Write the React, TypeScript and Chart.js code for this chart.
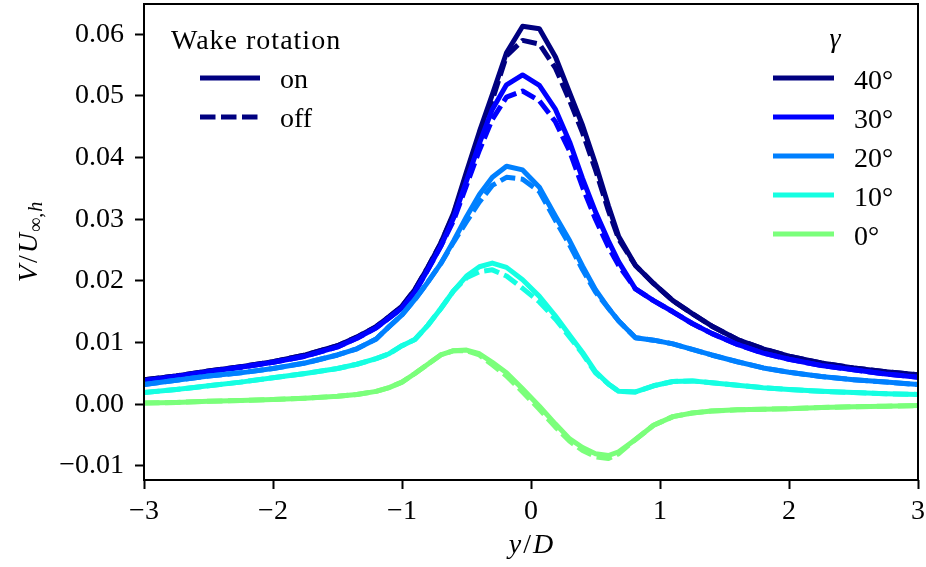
import React, { useEffect, useRef } from 'react';
import { Chart, registerables } from 'chart.js';

Chart.register(...registerables);

// ---- data ----
const Y_OVER_D = [
  -3, -2.75, -2.5, -2.25, -2, -1.75, -1.5, -1.35, -1.2, -1.1, -1, -0.9, -0.8, -0.7, -0.6, -0.5, -0.4, -0.3, -0.19, -0.065,
  0.065, 0.19, 0.3, 0.4, 0.5, 0.6, 0.68, 0.81, 0.95, 1.1, 1.25, 1.4, 1.6, 1.8, 2, 2.25, 2.5, 2.75, 3,
];

const GAMMA_LABELS = ['40°', '30°', '20°', '10°', '0°'];

const ON_40 = [
  0.0040, 0.0046, 0.0054, 0.0061, 0.0069, 0.0080, 0.0095, 0.0109, 0.0126, 0.0142, 0.0159, 0.0186, 0.0222, 0.0261, 0.0310, 0.0377, 0.0442, 0.0502, 0.0570, 0.0613,
  0.0609, 0.0563, 0.0505, 0.0452, 0.0390, 0.0322, 0.0272, 0.0225, 0.0196, 0.0168, 0.0147, 0.0127, 0.0105, 0.0090, 0.0078, 0.0067, 0.0059, 0.0053, 0.0048,
];
const OFF_40 = [
  0.0040, 0.0046, 0.0054, 0.0061, 0.0069, 0.0080, 0.0095, 0.0109, 0.0126, 0.0142, 0.0159, 0.0186, 0.0222, 0.0261, 0.0308, 0.0373, 0.0436, 0.0493, 0.0565, 0.0590,
  0.0584, 0.0545, 0.0492, 0.0440, 0.0380, 0.0314, 0.0268, 0.0225, 0.0196, 0.0168, 0.0147, 0.0127, 0.0105, 0.0090, 0.0078, 0.0067, 0.0059, 0.0053, 0.0048,
];
const ON_30 = [
  0.0038, 0.0045, 0.0053, 0.0060, 0.0068, 0.0078, 0.0093, 0.0107, 0.0124, 0.0140, 0.0156, 0.0182, 0.0218, 0.0256, 0.0302, 0.0362, 0.0423, 0.0478, 0.0518, 0.0534,
  0.0517, 0.0478, 0.0425, 0.0366, 0.0312, 0.0265, 0.0231, 0.0187, 0.0168, 0.0150, 0.0131, 0.0115, 0.0097, 0.0083, 0.0073, 0.0063, 0.0056, 0.0049, 0.0044,
];
const OFF_30 = [
  0.0038, 0.0045, 0.0053, 0.0060, 0.0068, 0.0078, 0.0093, 0.0107, 0.0124, 0.0140, 0.0156, 0.0182, 0.0218, 0.0256, 0.0298, 0.0355, 0.0412, 0.0462, 0.0498, 0.0508,
  0.0492, 0.0458, 0.0410, 0.0352, 0.0300, 0.0255, 0.0225, 0.0187, 0.0168, 0.0150, 0.0131, 0.0115, 0.0097, 0.0083, 0.0073, 0.0063, 0.0056, 0.0049, 0.0044,
];
const ON_20 = [
  0.0032, 0.0039, 0.0046, 0.0051, 0.0058, 0.0067, 0.0080, 0.0090, 0.0106, 0.0126, 0.0145, 0.0170, 0.0198, 0.0228, 0.0265, 0.0304, 0.0340, 0.0368, 0.0386, 0.0380,
  0.0352, 0.0305, 0.0265, 0.0224, 0.0186, 0.0156, 0.0135, 0.0108, 0.0104, 0.0098, 0.0089, 0.0080, 0.0069, 0.0059, 0.0052, 0.0045, 0.0040, 0.0036, 0.0032,
];
const OFF_20 = [
  0.0032, 0.0039, 0.0046, 0.0051, 0.0058, 0.0067, 0.0080, 0.0090, 0.0106, 0.0126, 0.0145, 0.0170, 0.0198, 0.0228, 0.0263, 0.0296, 0.0328, 0.0355, 0.0368, 0.0365,
  0.0345, 0.0298, 0.0258, 0.0218, 0.0182, 0.0156, 0.0135, 0.0108, 0.0104, 0.0098, 0.0089, 0.0080, 0.0069, 0.0059, 0.0052, 0.0045, 0.0040, 0.0036, 0.0032,
];
const ON_10 = [
  0.0019, 0.0024, 0.0030, 0.0036, 0.0043, 0.0050, 0.0058, 0.0065, 0.0074, 0.0082, 0.0095, 0.0105, 0.0128, 0.0155, 0.0184, 0.0208, 0.0223, 0.0229, 0.0222, 0.0202,
  0.0175, 0.0143, 0.0112, 0.0084, 0.0053, 0.0033, 0.0021, 0.0020, 0.0030, 0.0037, 0.0038, 0.0035, 0.0031, 0.0027, 0.0024, 0.0021, 0.0019, 0.0017, 0.0016,
];
const OFF_10 = [
  0.0019, 0.0024, 0.0030, 0.0036, 0.0043, 0.0050, 0.0058, 0.0065, 0.0074, 0.0082, 0.0095, 0.0105, 0.0128, 0.0155, 0.0184, 0.0205, 0.0215, 0.0218, 0.0208, 0.0188,
  0.0166, 0.0138, 0.0109, 0.0082, 0.0051, 0.0033, 0.0021, 0.0020, 0.0030, 0.0037, 0.0038, 0.0035, 0.0031, 0.0027, 0.0024, 0.0021, 0.0019, 0.0017, 0.0016,
];
const ON_0 = [
  0.0002, 0.0003, 0.0005, 0.0006, 0.0008, 0.0010, 0.0013, 0.0016, 0.0021, 0.0027, 0.0036, 0.0050, 0.0065, 0.0080, 0.0087, 0.0088, 0.0082, 0.0068, 0.0051, 0.0025,
  -0.0003, -0.0032, -0.0056, -0.0070, -0.0080, -0.0083, -0.0077, -0.0057, -0.0034, -0.0020, -0.0014, -0.0011, -0.0009, -0.0008, -0.0007, -0.0005, -0.0004, -0.0003, -0.0002,
];
const OFF_0 = [
  0.0002, 0.0003, 0.0005, 0.0006, 0.0008, 0.0010, 0.0013, 0.0016, 0.0021, 0.0027, 0.0036, 0.0050, 0.0065, 0.0080, 0.0087, 0.0087, 0.0080, 0.0064, 0.0046, 0.0020,
  -0.0008, -0.0037, -0.0060, -0.0075, -0.0085, -0.0088, -0.0080, -0.0057, -0.0034, -0.0020, -0.0014, -0.0011, -0.0009, -0.0008, -0.0007, -0.0005, -0.0004, -0.0003, -0.0002,
];

const SERIES_ON = [ON_40, ON_30, ON_20, ON_10, ON_0];
const SERIES_OFF = [OFF_40, OFF_30, OFF_20, OFF_10, OFF_0];

const X_TICKS = [-3, -2, -1, 0, 1, 2, 3];
const X_TICK_LABELS = ['\u22123', '\u22122', '\u22121', '0', '1', '2', '3'];
const Y_TICKS = [-0.01, 0, 0.01, 0.02, 0.03, 0.04, 0.05, 0.06];
const Y_TICK_LABELS = ['\u22120.01', '0.00', '0.01', '0.02', '0.03', '0.04', '0.05', '0.06'];
const X_RANGE = [-3, 3];
const Y_RANGE = [-0.01227, 0.0649];

const ROTATION_LABELS = ['on', 'off'];
const ROTATION_TITLE = 'Wake rotation';
const GAMMA_TITLE = '\u03b3';

// ---- styles ----
const COLORS = ['#000080', '#0000ff', '#0080ff', '#15ffe2', '#7bff7b'];
const FAMILY = '"Liberation Serif", "Times New Roman", serif';
const FS = 28;
const LW = 5;
const DASH = [15.5, 5.5];

export default function App() {
  const ref = useRef<HTMLCanvasElement>(null);

  useEffect(() => {
    const canvas = ref.current;
    if (!canvas) return;

    const datasets: any[] = [];
    GAMMA_LABELS.forEach((g, i) => {
      datasets.push({
        label: g + ' on',
        data: Y_OVER_D.map((x, k) => ({ x, y: SERIES_ON[i][k] })),
        borderColor: COLORS[i],
        borderWidth: LW,
        pointRadius: 0,
        tension: 0,
        fill: false,
        borderJoinStyle: 'round',
        order: 100 - 2 * i,
      });
      datasets.push({
        label: g + ' off',
        data: Y_OVER_D.map((x, k) => ({ x, y: SERIES_OFF[i][k] })),
        borderColor: COLORS[i],
        borderWidth: LW,
        borderDash: DASH,
        borderCapStyle: 'butt',
        pointRadius: 0,
        tension: 0,
        fill: false,
        borderJoinStyle: 'round',
        order: 99 - 2 * i,
      });
    });

    const drawParts = (ctx: CanvasRenderingContext2D, parts: { t: string; f: string; dy: number; gap?: number }[], cx: number, baseY: number) => {
      let total = 0;
      parts.forEach((p) => {
        ctx.font = p.f;
        total += ctx.measureText(p.t).width + (p.gap || 0);
      });
      let x = cx - total / 2;
      parts.forEach((p) => {
        ctx.font = p.f;
        ctx.fillText(p.t, x, baseY + p.dy);
        x += ctx.measureText(p.t).width + (p.gap || 0);
      });
    };

    const noPad = (s: any) => {
      s.paddingTop = 0;
      s.paddingBottom = 0;
      s.paddingLeft = 0;
      s.paddingRight = 0;
    };

    const overlay = {
      id: 'overlay',
      afterDatasetsDraw(chart: any) {
        const ctx: any = chart.ctx;
        const a = chart.chartArea;
        ctx.save();
        // frame
        ctx.strokeStyle = '#000';
        ctx.lineWidth = 2;
        ctx.strokeRect(a.left, a.top, a.right - a.left, a.bottom - a.top);

        ctx.fillStyle = '#000';
        ctx.textBaseline = 'alphabetic';
        ctx.textAlign = 'left';

        // left legend: wake rotation
        ctx.font = `${FS}px ${FAMILY}`;
        ctx.letterSpacing = '1px';
        ctx.fillText(ROTATION_TITLE, 171, 49);
        ctx.letterSpacing = '0px';
        ROTATION_LABELS.forEach((lab, i) => {
          const y = 78 + i * 39;
          ctx.beginPath();
          ctx.strokeStyle = COLORS[0];
          ctx.lineWidth = LW;
          ctx.lineCap = 'butt';
          ctx.setLineDash(i === 1 ? DASH : []);
          ctx.moveTo(200, y);
          ctx.lineTo(260, y);
          ctx.stroke();
          ctx.setLineDash([]);
          ctx.font = `${FS}px ${FAMILY}`;
          ctx.fillText(lab, 280, y + 10);
        });

        // right legend: gamma
        ctx.font = `italic ${FS}px ${FAMILY}`;
        ctx.textAlign = 'center';
        ctx.fillText(GAMMA_TITLE, 835, 47);
        ctx.textAlign = 'left';
        GAMMA_LABELS.forEach((lab, i) => {
          const y = 78 + i * 39;
          ctx.beginPath();
          ctx.strokeStyle = COLORS[i];
          ctx.lineWidth = LW;
          ctx.lineCap = 'butt';
          ctx.moveTo(773, y);
          ctx.lineTo(834, y);
          ctx.stroke();
          ctx.font = `${FS}px ${FAMILY}`;
          ctx.fillText(lab, 854, y + 11);
        });

        // x axis title
        drawParts(
          ctx,
          [
            { t: 'y', f: `italic ${FS}px ${FAMILY}`, dy: 0, gap: 2 },
            { t: '/', f: `${FS}px ${FAMILY}`, dy: 0, gap: 2 },
            { t: 'D', f: `italic ${FS}px ${FAMILY}`, dy: 0 },
          ],
          (a.left + a.right) / 2,
          553
        );

        // y axis title
        ctx.translate(37, (a.top + a.bottom) / 2);
        ctx.rotate(-Math.PI / 2);
        drawParts(
          ctx,
          [
            { t: 'V', f: `italic ${FS}px ${FAMILY}`, dy: 0, gap: 2 },
            { t: '/', f: `${FS}px ${FAMILY}`, dy: 0, gap: 2 },
            { t: 'U', f: `italic ${FS}px ${FAMILY}`, dy: 0, gap: 1 },
            { t: '\u221e', f: `20px ${FAMILY}`, dy: 5, gap: 0 },
            { t: ',', f: `20px ${FAMILY}`, dy: 5, gap: 1 },
            { t: 'h', f: `italic 20px ${FAMILY}`, dy: 5 },
          ],
          0,
          0
        );
        ctx.restore();
      },
    };

    const chart = new Chart(canvas, {
      type: 'line',
      data: { datasets },
      options: {
        responsive: false,
        animation: false,
        devicePixelRatio: 1,
        layout: { padding: { left: 0, right: 8, top: 4, bottom: 0 } },
        plugins: { legend: { display: false }, tooltip: { enabled: false }, title: { display: false } },
        scales: {
          x: {
            type: 'linear',
            min: X_RANGE[0],
            max: X_RANGE[1],
            afterBuildTicks: (s: any) => {
              s.ticks = X_TICKS.map((v) => ({ value: v }));
            },
            afterFit: (s: any) => {
              s.height = 87;
              noPad(s);
            },
            ticks: {
              autoSkip: false,
              maxRotation: 0,
              padding: 6,
              color: '#000',
              font: { family: FAMILY, size: FS },
              callback: (_v: any, i: number) => X_TICK_LABELS[i],
            },
            grid: { display: true, drawOnChartArea: false, drawTicks: true, tickLength: 9, tickWidth: 2, tickColor: '#000' },
            border: { display: false },
          },
          y: {
            type: 'linear',
            min: Y_RANGE[0],
            max: Y_RANGE[1],
            afterBuildTicks: (s: any) => {
              s.ticks = Y_TICKS.map((v) => ({ value: v }));
            },
            afterFit: (s: any) => {
              s.width = 144;
              noPad(s);
            },
            ticks: {
              autoSkip: false,
              padding: 11,
              color: '#000',
              font: { family: FAMILY, size: FS },
              callback: (_v: any, i: number) => Y_TICK_LABELS[i],
            },
            grid: { display: true, drawOnChartArea: false, drawTicks: true, tickLength: 9, tickWidth: 2, tickColor: '#000' },
            border: { display: false },
          },
        },
      } as any,
      plugins: [overlay],
    });

    return () => chart.destroy();
  }, []);

  return (
    <div style={{ position: 'fixed', left: 0, top: 0, width: 926, height: 567, background: '#fff' }}>
      <canvas ref={ref} width={926} height={567} style={{ width: 926, height: 567, display: 'block' }} />
    </div>
  );
}
